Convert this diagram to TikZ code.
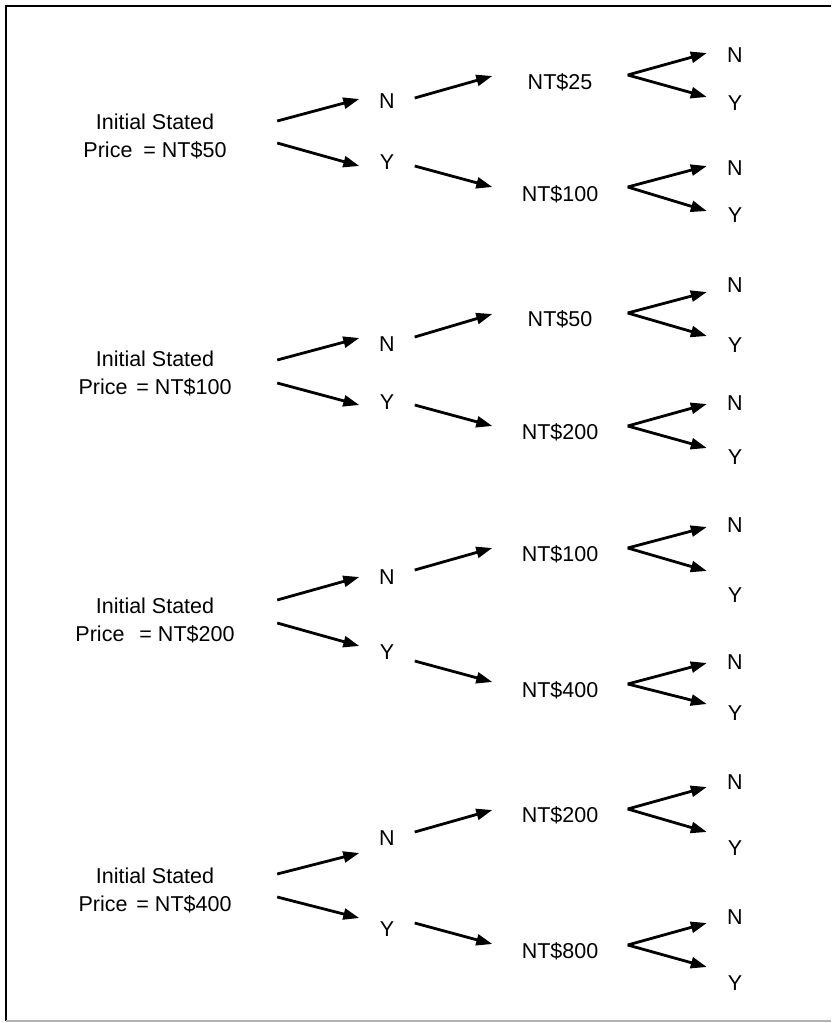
\documentclass[tikz,border=0pt]{standalone}
\usepackage{fontspec}
\setmainfont{Liberation Sans}
\usetikzlibrary{arrows.meta}
\begin{document}
\begin{tikzpicture}[x=1pt,y=-1pt,
  lbl/.style={font=\fontsize{21.5}{28}\selectfont, inner sep=0pt},
  init/.style={lbl, align=center, minimum width=244pt},
  mid/.style={lbl, minimum width=55pt},
  price/.style={lbl, minimum width=135pt},
  leaf/.style={lbl, minimum width=56pt},
  arr/.style={line width=2.8pt, -{Triangle[length=16pt,width=11pt]}},
  frame/.style={line width=2.8pt}]
\useasboundingbox (0,0) rectangle (831,1023);
% frame
\draw[frame] (831,6) -- (6,6) -- (6,1021);
\draw[line width=2pt, black!30] (6,1021) -- (831,1021);

% ---------- group 1 ----------
\node[init] (i1) at (155,136) {Initial Stated\\Price\hspace{11pt}= NT\$50};
\node[mid] (m1n) at (387,101) {N};
\node[mid] (m1y) at (387,162) {Y};
\node[price] (p1a) at (560,82) {NT\$25};
\node[price] (p1b) at (560,194) {NT\$100};
\node[leaf] (l1an) at (735,55) {N};
\node[leaf] (l1ay) at (735,103) {Y};
\node[leaf] (l1bn) at (735,168) {N};
\node[leaf] (l1by) at (735,215) {Y};
\draw[arr] (i1.east |- 0,121) -- (m1n.west |- 0,99);
\draw[arr] (i1.east |- 0,143) -- (m1y.west |- 0,166);
\draw[arr] (m1n.east |- 0,98) -- (p1a.west |- 0,76);
\draw[arr] (m1y.east |- 0,166) -- (p1b.west |- 0,187);
\draw[arr] (p1a.east |- 0,75) -- (l1an.west |- 0,53);
\draw[arr] (p1a.east |- 0,75) -- (l1ay.west |- 0,97);
\draw[arr] (p1b.east |- 0,187) -- (l1bn.west |- 0,166);
\draw[arr] (p1b.east |- 0,187) -- (l1by.west |- 0,211);

% ---------- group 2 ----------
\node[init] (i2) at (155,373) {Initial Stated\\Price\hspace{9pt}= NT\$100};
\node[mid] (m2n) at (387,344) {N};
\node[mid] (m2y) at (387,402) {Y};
\node[price] (p2a) at (560,319) {NT\$50};
\node[price] (p2b) at (560,432) {NT\$200};
\node[leaf] (l2an) at (735,285) {N};
\node[leaf] (l2ay) at (735,345) {Y};
\node[leaf] (l2bn) at (735,403) {N};
\node[leaf] (l2by) at (735,457) {Y};
\draw[arr] (i2.east |- 0,360) -- (m2n.west |- 0,338);
\draw[arr] (i2.east |- 0,383) -- (m2y.west |- 0,405);
\draw[arr] (m2n.east |- 0,337) -- (p2a.west |- 0,314);
\draw[arr] (m2y.east |- 0,405) -- (p2b.west |- 0,426);
\draw[arr] (p2a.east |- 0,313) -- (l2an.west |- 0,292);
\draw[arr] (p2a.east |- 0,313) -- (l2ay.west |- 0,336);
\draw[arr] (p2b.east |- 0,426) -- (l2bn.west |- 0,404);
\draw[arr] (p2b.east |- 0,426) -- (l2by.west |- 0,448);

% ---------- group 3 ----------
\node[init] (i3) at (155,620) {Initial Stated\\Price\hspace{15pt}= NT\$200};
\node[mid] (m3n) at (387,577) {N};
\node[mid] (m3y) at (387,652) {Y};
\node[price] (p3a) at (560,554) {NT\$100};
\node[price] (p3b) at (560,690) {NT\$400};
\node[leaf] (l3an) at (735,525) {N};
\node[leaf] (l3ay) at (735,595) {Y};
\node[leaf] (l3bn) at (735,662) {N};
\node[leaf] (l3by) at (735,713) {Y};
\draw[arr] (i3.east |- 0,600) -- (m3n.west |- 0,577);
\draw[arr] (i3.east |- 0,623) -- (m3y.west |- 0,646);
\draw[arr] (m3n.east |- 0,570) -- (p3a.west |- 0,548);
\draw[arr] (m3y.east |- 0,661) -- (p3b.west |- 0,682);
\draw[arr] (p3a.east |- 0,548) -- (l3an.west |- 0,527);
\draw[arr] (p3a.east |- 0,548) -- (l3ay.west |- 0,571);
\draw[arr] (p3b.east |- 0,684) -- (l3bn.west |- 0,663);
\draw[arr] (p3b.east |- 0,684) -- (l3by.west |- 0,704);

% ---------- group 4 ----------
\node[init] (i4) at (155,890) {Initial Stated\\Price\hspace{9pt}= NT\$400};
\node[mid] (m4n) at (387,838) {N};
\node[mid] (m4y) at (387,929) {Y};
\node[price] (p4a) at (560,815) {NT\$200};
\node[price] (p4b) at (560,951) {NT\$800};
\node[leaf] (l4an) at (735,782) {N};
\node[leaf] (l4ay) at (735,848) {Y};
\node[leaf] (l4bn) at (735,917) {N};
\node[leaf] (l4by) at (735,983) {Y};
\draw[arr] (i4.east |- 0,874) -- (m4n.west |- 0,853);
\draw[arr] (i4.east |- 0,897) -- (m4y.west |- 0,918);
\draw[arr] (m4n.east |- 0,832) -- (p4a.west |- 0,810);
\draw[arr] (m4y.east |- 0,923) -- (p4b.west |- 0,944);
\draw[arr] (p4a.east |- 0,809) -- (l4an.west |- 0,787);
\draw[arr] (p4a.east |- 0,809) -- (l4ay.west |- 0,832);
\draw[arr] (p4b.east |- 0,945) -- (l4bn.west |- 0,923);
\draw[arr] (p4b.east |- 0,945) -- (l4by.west |- 0,967);
\end{tikzpicture}
\end{document}
